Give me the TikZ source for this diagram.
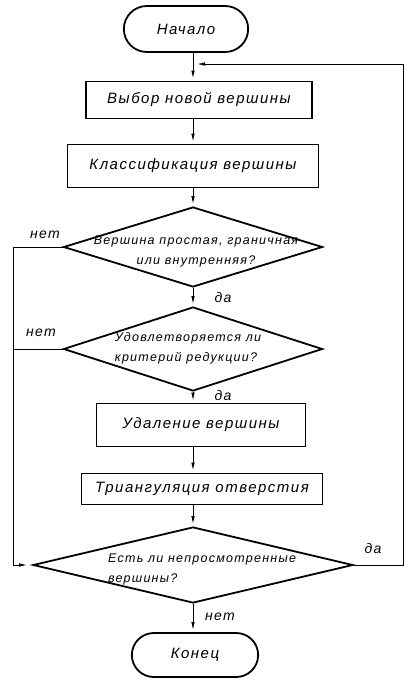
\documentclass[tikz,border=0pt]{standalone}
\usepackage{fontspec}
\usetikzlibrary{arrows.meta, positioning, shapes.geometric, shapes.misc}
\setmainfont{Liberation Sans}
\newfontfamily\flowfont[LetterSpace=10]{Liberation Sans}

\begin{document}
\begin{tikzpicture}[
    x=1pt, y=-1pt,
    >={Latex[length=8pt, width=3.5pt]},
    term/.style={rounded rectangle, draw, line width=1.8pt, font=\flowfont\itshape\fontsize{15}{18}\selectfont},
    proc/.style={rectangle, draw, line width=1.8pt, font=\flowfont\itshape\fontsize{15}{18}\selectfont},
    decision/.style={diamond, draw, line width=1.8pt, inner sep=0pt},
    qtext/.style={align=left, font=\flowfont\itshape\fontsize{12.5}{20}\selectfont},
    lbl/.style={font=\flowfont\itshape\fontsize{14}{16}\selectfont},
    arrow/.style={->, line width=0.9pt, shorten >=2pt},
    line/.style={line width=0.9pt}
]
\useasboundingbox (0,0) rectangle (412,686);

% === Начало и первые блоки ===
\node[term, minimum width=131pt, minimum height=46pt] (start) at (186,29) {Начало};
\node[proc, minimum width=226pt, minimum height=37pt] (choose) at (199,100) {Выбор новой вершины\hspace{10pt}};
\node[proc, minimum width=251pt, minimum height=43pt] (classify) at (193,166) {Классификация вершины};

% === Условия ===
\node[decision, minimum width=259pt, minimum height=80pt] (vtype) at (193,247) {};
\node[qtext, align=center] (vtypetxt) at (196,251) {Вершина простая, граничная\\ или внутренняя?};
\node[decision, minimum width=259pt, minimum height=84pt] (reduce) at (193,349) {};
\node[qtext] (reducetxt) at (188,348) {Удовлетворяется ли\\ критерий редукции?};

% === Удаление и триангуляция ===
\node[proc, minimum width=209pt, minimum height=43pt] (remove) at (201,425) {Удаление вершины\hspace{8pt}};
\node[proc, minimum width=241pt, minimum height=31pt] (triang) at (202,489) {Триангуляция отверстия};

% === Проверка и конец ===
\node[decision, minimum width=320pt, minimum height=76pt] (more) at (193,565) {};
\node[qtext] (moretxt) at (202,569) {Есть ли непросмотренные\\ вершины?};
\node[term, minimum width=133pt, minimum height=44pt] (finish) at (195,655) {Конец};

% вспомогательные точки
\coordinate (axis) at (193,0);
\coordinate (back) at (193,64);
\coordinate (loopR) at (403,64);
\coordinate (loopL) at (13,247);

% === Стрелки по оси ===
\draw[line] (start.south -| axis) -- (back);
\draw[arrow] (back) -- (choose.north -| axis);
\draw[arrow] (choose.south -| axis) -- (classify.north -| axis);
\draw[arrow] (classify.south -| axis) -- (vtype.north);
\draw[arrow] (vtype.south) -- (reduce.north);
\draw[arrow] (reduce.south) -- (remove.north -| axis);
\draw[arrow] (remove.south -| axis) -- (triang.north -| axis);
\draw[arrow] (triang.south -| axis) -- (more.north);
\draw[arrow] (more.south) -- (finish.north -| axis);

% === Обратные связи ===
\draw[arrow, shorten >=4pt] (more.east) -| (loopR) -- (back);
\draw[line] (vtype.west) -- (loopL);
\draw[line] (reduce.west) -- (reduce.west -| loopL);
\draw[arrow, shorten >=5pt] (loopL) |- (more.west);

% === Подписи ===
\node[lbl] (no1) at (45,235) {нет};
\node[lbl] (no2) at (41,333) {нет};
\node[lbl] (yes1) at (223,297) {да};
\node[lbl] (yes2) at (223,395) {да};
\node[lbl] (yes3) at (373,548) {да};
\node[lbl] (no3) at (220,617) {нет};

\end{tikzpicture}
\end{document}
